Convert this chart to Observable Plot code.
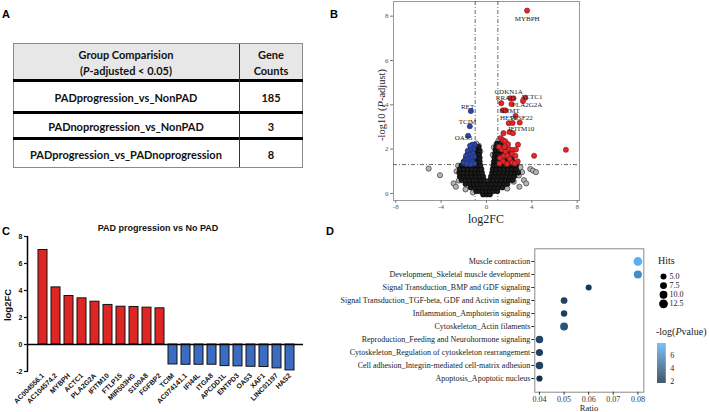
<!DOCTYPE html>
<html><head><meta charset="utf-8">
<script src="https://cdn.jsdelivr.net/npm/d3@7"></script>
<script src="https://cdn.jsdelivr.net/npm/@observablehq/plot@0.6"></script>
<style>
body{margin:0;background:#fff;width:709px;height:412px;overflow:hidden;position:relative;font-family:"Liberation Sans",Arial,sans-serif;}
.abs{position:absolute;}
.ctr{position:absolute;transform:translate(-50%,-50%);white-space:nowrap;line-height:1;}
.letter{position:absolute;font-weight:bold;font-size:11px;line-height:1;font-family:"Liberation Sans",Arial,sans-serif;}
.serif{font-family:"Liberation Serif","Times New Roman",serif;}
svg{display:block;overflow:visible;}
</style></head><body>
<script>
// ---------- Panel A data ----------
const tableHead1 = ["Group Comparision", "(<i>P</i>-adjusted < 0.05)"];
const tableHead2 = ["Gene", "Counts"];
const comparisons = ["PADprogression_vs_NonPAD", "PADnoprogression_vs_NonPAD", "PADprogression_vs_PADnoprogression"];
const geneCounts = [185, 3, 8];

// ---------- Panel B data (log2FC, -log10 P-adjust) ----------
const redPts = [
  [3.58,8.25],[3.42,4.32],[3.22,4.17],[2.1,4.29],[2.38,4.29],[2.2,4.03],[1.3,4.07],
  [1.45,3.75],[1.68,3.75],[2.56,3.5],[1.96,3.17],[2.3,3.18],[2.93,3.2],
  [1.5,2.72],[2.03,2.77],[2.33,2.72],[1.25,2.5],[1.45,2.4],[1.65,2.35],[1.9,2.22],[2.78,2.2],
  [1.35,1.98],[1.7,1.88],[2.0,2.0],[2.3,1.97],[2.6,1.98],[2.25,1.78],[2.55,1.7],[1.5,1.68],
  [1.85,1.7],[2.05,1.55],[2.75,1.45],[2.25,1.4],[1.8,1.33],[1.45,1.45],[1.2,1.6],[1.15,1.35],
  [2.5,1.35],[1.1,2.1],[1.6,2.1],[4.2,1.7],[7.0,1.97]
];
const bluePts = [
  [-1.38,3.72],[-1.47,3.03],[-1.62,2.6],
  [-1.05,2.2],[-1.25,2.2],[-1.45,2.15],[-1.15,2.0],[-1.4,1.95],[-1.65,1.92],[-1.2,1.8],
  [-1.5,1.75],[-1.8,1.7],[-1.1,1.65],[-1.35,1.6],[-1.6,1.55],[-1.9,1.48],[-1.25,1.45],
  [-1.55,1.4],[-2.0,1.38],[-1.1,1.35],[-1.4,1.32],[-1.75,1.33]
];
const grayPts = [
  [-5.1,1.12],[-4.1,0.82],[3.86,1.1],[4.1,1.03],[4.36,0.96],
  [-2.64,1.0],[-2.44,0.58],[-1.85,0.18],[-2.9,0.45],[-2.7,0.3],[-2.5,1.25],[-1.2,0.04],[-2.3,0.75],
  [2.85,0.81],[3.14,0.96],[2.99,1.18],[2.4,0.53],[1.82,0.22],[3.3,0.6],[3.5,0.45],[2.9,0.3],[2.7,1.35],
  [-0.68,2.15],[0.88,2.23],[0.65,2.08],[1.23,1.85],[-0.9,2.25],[1.05,2.38],[-0.55,1.9],[0.55,1.75]
];
const coreRows = [
  [-0.05,[-0.3,0,0.3]],
  [0.1,[-0.9,-0.6,-0.3,0,0.3,0.6,0.95]],
  [0.27,[-1.4,-1.05,-0.7,-0.35,0,0.35,0.7,1.05,1.4]],
  [0.43,[-1.85,-1.5,-1.15,-0.8,-0.45,-0.15,0.2,0.5,0.85,1.2,1.55,1.85]],
  [0.6,[-2.2,-1.85,-1.5,-1.15,-0.8,-0.5,-0.2,0.3,0.6,0.95,1.3,1.65,2.0,2.3]],
  [0.77,[-2.35,-2.0,-1.65,-1.3,-0.95,-0.6,-0.3,0.4,0.7,1.05,1.4,1.75,2.1,2.45]],
  [0.94,[-2.4,-2.05,-1.7,-1.35,-1.0,-0.7,-0.4,0.5,0.8,1.15,1.5,1.85,2.2,2.55,2.8]],
  [1.1,[-2.35,-2.0,-1.65,-1.3,-0.95,-0.65,-0.45,0.55,0.85,1.2,1.55,1.9,2.25,2.6]],
  [1.27,[-2.2,-1.85,-1.5,-1.15,-0.8,-0.55,0.6,0.9,1.25,1.6,1.95,2.3,2.6]],
  [1.44,[-2.0,-1.65,-1.3,-0.95,-0.6,0.65,0.95,1.3,1.65,2.0,2.3]],
  [1.61,[-1.8,-1.45,-1.1,-0.8,-0.6,0.7,1.0,1.35,1.7,2.05,2.25]],
  [1.78,[-1.65,-1.3,-1.0,-0.65,0.75,1.05,1.4,1.75,2.0]],
  [1.95,[-1.45,-1.1,-0.8,-0.65,0.8,1.1,1.45,1.8]],
  [2.1,[-1.25,-0.95,-0.7,0.85,1.15,1.4]],
  [2.25,[0.95,1.25]]
];
const volcanoGenes = ["MYBPH","CDKN1A","RRAD","ACTC1","PLA2G2A","NNMT","HES1","IGSF22","IFITM10","RET","TCIM","OAS3"];
const volcanoLabelX = [3.59,1.95,1.67,3.96,3.59,2.03,1.93,3.1,3.06,-1.67,-1.67,-2.03];
const volcanoLabelY = [7.88,4.59,4.32,4.36,3.99,3.74,3.4,3.4,2.9,3.9,3.23,2.52];
const volcanoLabelAnchor = ["start","middle","end","start","start","start","end","start","start","end","end","end"];
const fcCutoffs = [-1, 1];
const padjCutoff = 1.3;

// ---------- Panel C data ----------
const barGenes = ["AC004556.1","AC104574.2","MYBPH","ACTC1","PLA2G2A","IFITM10","FTLP15","MIR503HG","S100A8","FGFBP2",
  "TCIM","AC074141.1","IFI44L","ITGA8","APCDD1L","ENTPD3","OAS3","XAF1","LINC01197","HAS2"];
const barLog2FC = [7.0,4.23,3.59,3.42,3.17,2.93,2.8,2.78,2.73,2.68,
  -1.48,-1.5,-1.5,-1.5,-1.6,-1.62,-1.65,-1.67,-1.77,-1.92];

// ---------- Panel D data ----------
const pathways = ["Muscle contraction","Development_Skeletal muscle development","Signal Transduction_BMP and GDF signaling",
  "Signal Transduction_TGF-beta, GDF and Activin signaling","Inflammation_Amphoterin signaling","Cytoskeleton_Actin filaments",
  "Reproduction_Feeding and Neurohormone signaling","Cytoskeleton_Regulation of cytoskeleton rearrangement",
  "Cell adhesion_Integrin-mediated cell-matrix adhesion","Apoptosis_Apoptotic nucleus"];
const ratios = [0.08,0.08,0.06,0.05,0.05,0.05,0.04,0.04,0.04,0.04];
const hits = [12.5,10.5,5,7,6,10,9,8,9,5.5];
const negLogP = [7.8,6.3,2.4,2.9,2.8,3.8,3.0,2.7,3.0,2.0];
const hitsKeys = [5.0,7.5,10.0,12.5];
const colorTicks = [2,4,6];

// ---------- helpers ----------
function place(node, left, top){ const d=document.createElement("div"); d.className="abs"; d.style.left=left+"px"; d.style.top=top+"px"; d.appendChild(node); document.body.appendChild(d); return d; }
function html(cls, x, y, content, style){ const d=document.createElement("div"); d.className=cls; d.style.left=x+"px"; d.style.top=y+"px"; d.innerHTML=content; if(style) Object.assign(d.style, style); document.body.appendChild(d); return d; }

// panel letters
html("letter",2,9,"A"); html("letter",330,9,"B"); html("letter",2,226,"C"); html("letter",326,226,"D");

// ---------- Panel A: table ----------
(function(){
  const t=document.createElement("div");
  Object.assign(t.style,{position:"absolute",left:"13px",top:"43px",width:"290px",height:"125px",boxSizing:"border-box",
    border:"1px solid #8a8a8a",fontFamily:"Lato, 'Open Sans', sans-serif",fontWeight:"bold",fontSize:"11px",color:"#111"});
  document.body.appendChild(t);
  const hdr=document.createElement("div"); Object.assign(hdr.style,{position:"absolute",left:"0",top:"0",width:"100%",height:"36px",background:"#e8e7e7"}); t.appendChild(hdr);
  const rowTops=[36,68,94], rowBottoms=[68,94,124];
  rowTops.forEach(y=>{const l=document.createElement("div");Object.assign(l.style,{position:"absolute",left:"-1px",right:"-1px",top:(y-1)+"px",height:"2.5px",background:"#000"});t.appendChild(l);});
  const v=document.createElement("div");Object.assign(v.style,{position:"absolute",left:"225px",top:"0",width:"1px",height:"100%",background:"#333"});t.appendChild(v);
  const cell=(x,y,s)=>{const d=document.createElement("div");d.className="ctr";d.style.left=x+"px";d.style.top=y+"px";d.innerHTML=s;t.appendChild(d);};
  cell(112,10,tableHead1[0]); cell(112,26,tableHead1[1]);
  cell(257,10,tableHead2[0]); cell(257,26,tableHead2[1]);
  comparisons.forEach((c,i)=>{const cy=(rowTops[i]+rowBottoms[i])/2+1; cell(112,cy,c); cell(257,cy,String(geneCounts[i]));});
})();

// ---------- Panel B: volcano ----------
(function(){
  const toObj = a => a.map(([x,y])=>({x,y}));
  const core = coreRows.flatMap(([y,xs])=>xs.map(x=>({x,y})));
  const labels = volcanoGenes.map((g,i)=>({g,x:volcanoLabelX[i],y:volcanoLabelY[i],a:volcanoLabelAnchor[i]}));
  const dotOpt = {x:"x",y:"y",r:2.6,strokeWidth:0.6};
  const p = Plot.plot({
    width:240,height:225,marginLeft:43,marginRight:11,marginTop:1,marginBottom:25,
    x:{domain:[-8.2,8.2]}, y:{domain:[-0.32,8.66]},
    style:{fontFamily:"Liberation Serif, serif",fontSize:"7px",color:"#555",background:"transparent"},
    marks:[
      Plot.frame({stroke:"#9a9a9a"}),
      Plot.axisX({ticks:[-8,-4,0,4,8],tickFormat:d=>String(d),tickSize:3,tickPadding:1,label:null,stroke:"#777",fill:"#555"}),
      Plot.axisY({ticks:[0,2,4,6,8],tickFormat:d=>String(d),tickSize:3,tickPadding:2,label:null,stroke:"#777",fill:"#555"}),
      Plot.ruleX(fcCutoffs,{stroke:"#444",strokeWidth:0.8,strokeDasharray:"4,2,1,2"}),
      Plot.ruleY([padjCutoff],{stroke:"#444",strokeWidth:0.8,strokeDasharray:"4,2,1,2"}),
      Plot.dot(toObj(grayPts),{...dotOpt,fill:"#b5b5b5",stroke:"#222"}),
      Plot.dot(core,{...dotOpt,fill:"#1c1c1c",stroke:"#000"}),
      Plot.dot(toObj(bluePts),{...dotOpt,fill:"#2d46a8",stroke:"#1d2a60"}),
      Plot.dot(toObj(redPts),{...dotOpt,fill:"#e4252a",stroke:"#7a1515"}),
      Plot.text(labels,{x:"x",y:"y",text:"g",textAnchor:d=>d.a,fontSize:7,fontFamily:"Liberation Serif, serif",fill:"#222"})
    ]
  });
  place(p,350,0);
  html("ctr serif",382,105,"-log10 (<i>P</i>-adjust)",{transform:"translate(-50%,-50%) rotate(-90deg)",fontSize:"10.5px",color:"#222"});
  html("ctr serif",486,219,"log2FC",{fontSize:"12px",color:"#222"});
})();

// ---------- Panel C: bar chart ----------
(function(){
  const data = barGenes.map((g,i)=>({g,v:barLog2FC[i]}));
  const yAxisLine = (index, scales, values, dims) => {
    const x = dims.marginLeft - 0.5;
    return d3.create("svg:line").attr("x1",x).attr("x2",x).attr("y1",scales.y(8)).attr("y2",scales.y(-2))
      .attr("stroke","#000").attr("stroke-width",1.5).node();
  };
  const p = Plot.plot({
    width:315,height:187,marginLeft:28,marginRight:12,marginTop:11,marginBottom:41,
    x:{domain:barGenes,paddingInner:0.31,paddingOuter:0.1},
    y:{domain:[-2,8]},
    style:{fontFamily:"Liberation Sans, Arial, sans-serif",fontSize:"7px",fontWeight:"bold",color:"#111",background:"transparent"},
    marks:[
      Plot.barY(data,{x:"g",y:"v",fill:d=>d.v>0?"#de2724":"#3b6cc1",stroke:"#111",strokeWidth:1}),
      Plot.ruleY([0],{stroke:"#000",strokeWidth:1.5}),
      yAxisLine,
      Plot.axisY({ticks:[-2,0,2,4,6,8],tickFormat:d=>String(d),tickSize:4,tickPadding:2,label:null,strokeWidth:1.2,fill:"#111"}),
      Plot.axisX({tickRotate:-45,tickSize:0,tickPadding:3,label:null,fill:"#111"})
    ]
  });
  place(p,0,225);
  html("ctr",158,228,"PAD progression vs No PAD",{fontWeight:"bold",fontSize:"9px",color:"#111"});
  html("ctr",8,305,"log2FC",{transform:"translate(-50%,-50%) rotate(-90deg)",fontWeight:"bold",fontSize:"9.5px",color:"#111"});
})();

// ---------- Panel D: enrichment dot plot ----------
(function(){
  const data = pathways.map((p,i)=>({p,ratio:ratios[i],hits:hits[i],lp:negLogP[i]}));
  const rScale = {type:"linear",domain:[5,12.5],range:[3,4.4]};
  const cScale = {type:"linear",domain:[1.75,7.8],range:["#132B43","#56B1F7"],interpolate:"lab"};
  const p = Plot.plot({
    width:320,height:172,marginLeft:204.3,marginRight:6.7,marginTop:8.3,marginBottom:20.3,
    x:{domain:[0.0381,0.0824]},
    y:{domain:pathways,type:"point",padding:0.65},
    r:rScale, color:cScale,
    style:{fontFamily:"Liberation Serif, serif",fontSize:"8px",color:"#222",background:"transparent"},
    marks:[
      Plot.frame({stroke:"#8a8a8a"}),
      Plot.axisX({ticks:[0.04,0.05,0.06,0.07,0.08],tickFormat:d3.format(".2f"),tickSize:3,tickPadding:1,label:null,fontSize:8,stroke:"#333",fill:"#333"}),
      Plot.axisY({tickSize:3,tickPadding:1.5,label:null,stroke:"#333",fill:"#222"}),
      Plot.dot(data,{x:"ratio",y:"p",r:"hits",fill:"lp"})
    ]
  });
  place(p,330,240);
  html("ctr serif",589,408,"Ratio",{fontSize:"8.5px",color:"#222"});

  // Hits legend
  const hl = Plot.plot({
    width:40,height:40,marginLeft:6,marginRight:0,marginTop:6,marginBottom:6,
    x:{domain:[0,1],axis:null}, y:{domain:[5,12.5],range:[6,33.3],axis:null}, r:rScale,
    style:{fontFamily:"Liberation Serif, serif",fontSize:"8px",color:"#222",background:"transparent"},
    marks:[
      Plot.dot(hitsKeys,{x:0,y:d=>d,r:d=>d,fill:"#000"}),
      Plot.text(hitsKeys,{x:0,y:d=>d,text:d=>d.toFixed(1),dx:6,textAnchor:"start",fill:"#222"})
    ]
  });
  place(hl,657.3,270);
  html("abs serif",658,256,"Hits",{fontSize:"10px",color:"#222",lineHeight:"1"});

  // colour bar legend
  const steps = d3.range(1.75,7.8,0.05);
  const cb = Plot.plot({
    width:30,height:40,marginLeft:0,marginRight:21.3,marginTop:0,marginBottom:0,
    x:{domain:[0,1],axis:null}, y:{domain:[1.75,7.8]}, color:cScale,
    style:{fontFamily:"Liberation Serif, serif",fontSize:"8px",color:"#222",background:"transparent"},
    marks:[
      Plot.rect(steps,{x1:0,x2:1,y1:d=>d,y2:d=>d+0.06,fill:d=>d}),
      Plot.axisY({anchor:"right",ticks:colorTicks,tickFormat:d=>String(d),tickSize:0,tickPadding:4,label:null,fill:"#222"})
    ]
  });
  place(cb,657.3,343.3);
  html("abs serif",656,327,"-log(<i>P</i>value)",{fontSize:"10px",color:"#222",lineHeight:"1"});
})();
</script>
</body></html>
